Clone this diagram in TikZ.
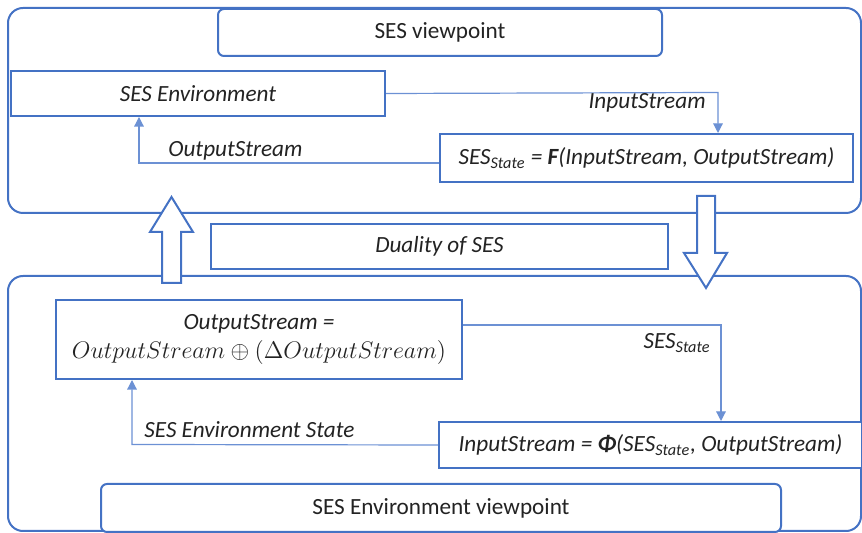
\documentclass[tikz,border=0pt]{standalone}
\usepackage{fontspec}
\setmainfont{Carlito}
\usetikzlibrary{arrows.meta}
\definecolor{sesblue}{RGB}{68,114,196}
\definecolor{linkblue}{RGB}{108,145,212}
\definecolor{sestext}{RGB}{35,35,35}
\newcommand{\sesfont}{\fontsize{11.6}{13.5}\selectfont}
\tikzset{
  box/.style={draw=sesblue, line width=1pt, fill=white, anchor=north west, inner sep=0pt, text=sestext, font=\sesfont\itshape},
  viewbox/.style={box, rounded corners=3pt, font=\sesfont},
  frame/.style={draw=sesblue, line width=1pt, rounded corners=7.5pt},
  hollow/.style={draw=sesblue, line width=1pt, fill=white},
  link/.style={draw=linkblue, line width=0.6pt, -{Triangle[width=4.8pt,length=4.8pt]}},
  lbl/.style={inner sep=0pt, text=sestext, font=\sesfont\itshape}
}

\begin{document}
\begin{tikzpicture}[x=0.5pt, y=-0.5pt]
\useasboundingbox (0,0) rectangle (862,533);
% frames
\draw [frame] (8,8) rectangle (861,213);
\draw [frame] (8,276) rectangle (861,531);
% hollow arrows between the two views
\draw [hollow] (162,283) -- (162,232) -- (150,232) -- (171.5,197) -- (193,232) -- (181,232) -- (181,283) -- cycle;
\draw [hollow] (697,196) -- (697,253) -- (684,253) -- (706,288) -- (727,253) -- (715,253) -- (715,196) -- cycle;
% upper view
\node [viewbox, minimum width=222pt, minimum height=23.5pt] (sesview) at (217,8) {SES viewpoint};
\node [box, minimum width=187pt, minimum height=22.5pt] (envbox) at (10,70) {SES Environment};
\node [box, minimum width=206.5pt, minimum height=24pt] (statebox) at (439,133)
  {SES\textsubscript{State} = \textbf{F}(InputStream, OutputStream)};
\node [box, minimum width=228.5pt, minimum height=22.5pt] (dualbox) at (210,223) {Duality of SES};
% lower view
\node [box, minimum width=203pt, minimum height=39.5pt, align=center] (outbox) at (55,299)
  {OutputStream =\\[1pt] $OutputStream \oplus (\Delta OutputStream)$};
\node [box, minimum width=211.5pt, minimum height=23pt] (inbox) at (438,421)
  {InputStream = \textbf{Φ}(SES\textsubscript{State}, OutputStream)};
\node [viewbox, minimum width=340pt, minimum height=24pt] (envview) at (100,483) {SES Environment viewpoint};
% connectors
\coordinate (inturn) at (718,92.5);
\coordinate (outturn) at (139,163);
\coordinate (stturn) at (721,325);
\coordinate (esturn) at (132,444.5);
\draw [link] (envbox.east) -- (inturn) -- (inturn |- statebox.north);
\draw [link] (statebox.west |- outturn) -- (outturn) -- (outturn |- envbox.south);
\draw [link] (outbox.east |- stturn) -- (stturn) -- (stturn |- inbox.north);
\draw [link] (inbox.west) -- (esturn) -- (esturn |- outbox.south);
% labels
\node [lbl, anchor=east] (inlbl) at (706,103) {InputStream};
\node [lbl, anchor=west] (outlbl) at (168,151) {OutputStream};
\node [lbl, anchor=east] (stlbl) at (711,343) {SES\textsubscript{State}};
\node [lbl, anchor=west] (eslbl) at (144,430) {SES Environment State};
\end{tikzpicture}
\end{document}
